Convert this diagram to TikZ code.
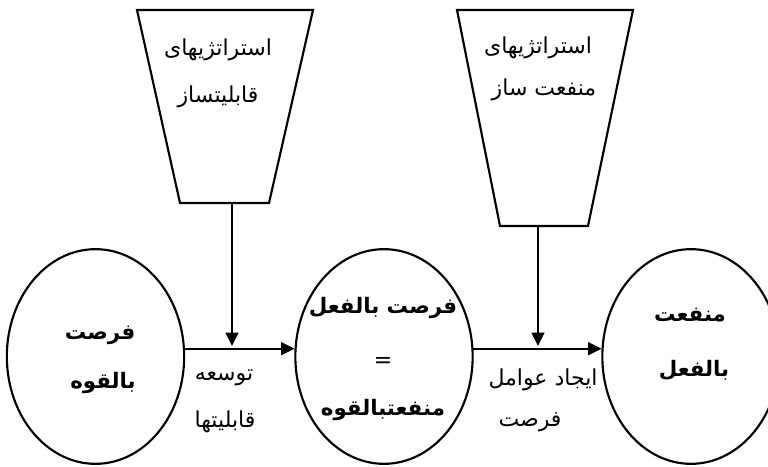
\documentclass[tikz,border=0pt]{standalone}
\usepackage{fontspec}
\TeXXeTstate=1
\newfontfamily\arabicfont[Script=Arabic]{DejaVu Sans}
\usetikzlibrary{shapes.geometric,arrows.meta}
\begin{document}
\begin{tikzpicture}[x=0.75pt,y=-0.75pt,
  line/.style={draw=black,line width=1.6pt,line join=miter},
  arr/.style={line,-{Triangle[length=10pt,width=9.5pt]}},
  oval/.style={ellipse,draw=black,line width=1.6pt,minimum width=133pt,minimum height=161pt,inner sep=0pt},
  txt/.style={inner sep=0pt,font=\arabicfont\fontsize{16.5}{18}\selectfont},
  btxt/.style={inner sep=0pt,font=\arabicfont\bfseries\fontsize{16}{18}\selectfont}]
\useasboundingbox (0,0) rectangle (768,467);
% trapezoids
\draw[line] (137,10) -- (313,10) -- (269,203) -- (180,203) -- cycle;
\draw[line] (457,10) -- (633,10) -- (588,226) -- (500,226) -- cycle;
\coordinate (t1) at (232,203);
\coordinate (t2) at (538,226);
\node[txt] (s1a) at (218,50) {\beginR استراتژیهای\endR};
\node[txt] (s1b) at (218,97) {\beginR قابلیتساز\endR};
\node[txt] (s2a) at (538,48) {\beginR استراتژیهای\endR};
\node[txt] (s2b) at (544,90) {\beginR منفعت ساز\endR};
% ellipses
\node[oval] (e1) at (95.5,356.5) {};
\node[oval] (e2) at (384,356.5) {};
\node[oval] (e3) at (691,356.5) {};
\node[btxt] (a1) at (100,335) {\beginR فرصت\endR};
\node[btxt] (a2) at (103,383) {\beginR بالقوه\endR};
\node[btxt] (b1) at (383,308) {\beginR فرصت بالفعل\endR};
\node[txt] (b2) at (383,363) {=};
\node[btxt] (b3) at (383,410) {\beginR منفعتبالقوه\endR};
\node[btxt] (c1) at (690,315) {\beginR منفعت\endR};
\node[btxt] (c2) at (694,370) {\beginR بالفعل\endR};
% connectors
\draw[arr] (e1.5) -- (e2.175);
\draw[arr] (e2.5) -- (e3.175);
\coordinate (j1) at (232,346);
\coordinate (j2) at (538,346);
\draw[arr] (t1) -- (j1);
\draw[arr] (t2) -- (j2);
% labels
\node[txt] (l1a) at (224,378) {\beginR توسعه\endR};
\node[txt] (l1b) at (225,422) {\beginR قابلیتها\endR};
\node[txt] (l2a) at (543,380) {\beginR ایجاد عوامل\endR};
\node[txt] (l2b) at (530,422) {\beginR فرصت\endR};
\end{tikzpicture}
\end{document}
